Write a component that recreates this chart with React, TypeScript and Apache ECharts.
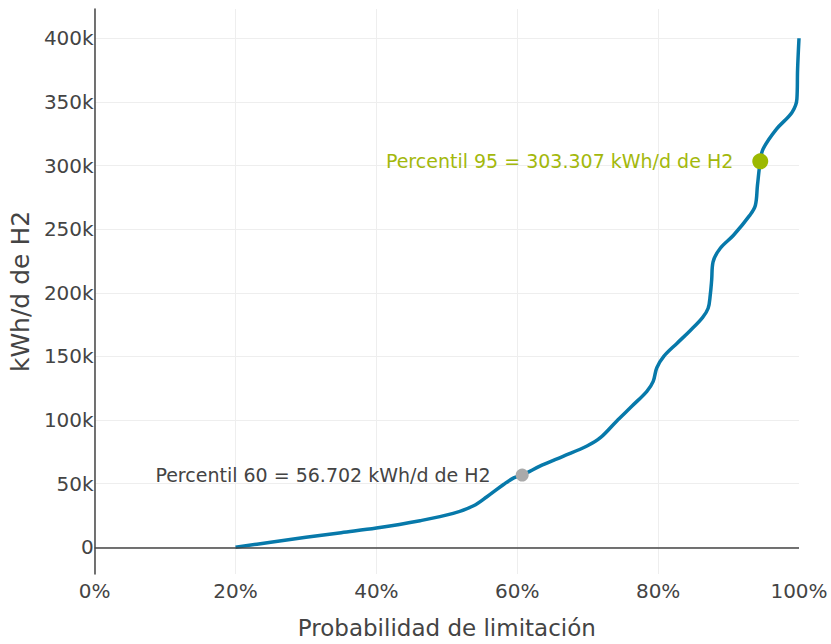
import React, { useEffect, useRef } from "react";
import * as echarts from "echarts";

// Probabilidad de limitación (%) vs energía (kWh/d de H2)
const probabilidad = [
  20, 25, 30, 35, 40, 46.2, 50.9, 53.8, 55.7, 58.1, 59.5, 60.7, 63.5, 66.5,
  69.9, 71.8, 74.1, 76.3, 78.4, 79.3, 79.8, 80.8, 82.7, 84.5, 86.3, 87.1, 87.4,
  87.6, 87.8, 88.8, 90.7, 93.0, 93.8, 94.1, 94.5, 94.9, 96.8, 99.0, 99.7, 99.8,
  100,
];
const energia = [
  0, 4000, 7800, 11500, 15100, 20900, 26600, 32600, 39700, 49500, 54500, 56702,
  64500, 71500, 79600, 86100, 99100, 111000, 122600, 130400, 140900, 150000,
  160400, 170000, 180500, 187800, 198200, 210000, 224300, 234800, 245200,
  260800, 268600, 284300, 303307, 313000, 328600, 341700, 352100, 375600,
  400000,
];

// Percentiles marcados
const percentilNombres = [60, 95];
const percentilX = [60.7, 94.5];
const percentilY = [56702, 303307];

const xTicks = [0, 20, 40, 60, 80, 100];

const fmtMiles = (v: number) =>
  String(Math.round(v)).replace(/\B(?=(\d{3})+(?!\d))/g, ".");

const FONT = "Verdana, 'DejaVu Sans', sans-serif";

export default function App() {
  const ref = useRef<HTMLDivElement>(null);
  useEffect(() => {
    if (!ref.current) return;
    const chart = echarts.init(ref.current, undefined, { renderer: "svg" });
    const curve = probabilidad.map((p, i) => [p, energia[i]]);
    const pColors = ["#aaaaaa", "#9cb900"];
    const pLabelColors = ["#444444", "#a3b80c"];
    const pSizes = [13, 16];
    const pDist = [25, 19];
    chart.setOption({
      animation: false,
      backgroundColor: "#ffffff",
      textStyle: { fontFamily: FONT },
      grid: { left: 94, right: 32, top: 9, bottom: 67, containLabel: false },
      xAxis: {
        type: "value",
        min: xTicks[0],
        max: xTicks[xTicks.length - 1],
        interval: 20,
        name: "Probabilidad de limitación",
        nameLocation: "middle",
        nameGap: 42,
        nameTextStyle: { fontSize: 23, color: "#444", fontFamily: FONT },
        axisLine: { show: false },
        axisTick: { show: false },
        axisLabel: {
          formatter: "{value}%",
          fontSize: 20,
          color: "#444",
          margin: 7,
          fontFamily: FONT,
        },
        splitLine: {
          show: true,
          showMaxLine: false,
          lineStyle: { color: "#eeeeee", width: 1 },
        },
      },
      yAxis: {
        type: "value",
        min: -21000,
        max: 423000,
        minInterval: 50000,
        maxInterval: 50000,
        splitNumber: 9,
        name: "kWh/d de H2",
        nameLocation: "middle",
        nameGap: 59,
        nameTextStyle: { fontSize: 25, color: "#444", fontFamily: FONT },
        axisLine: { show: true, lineStyle: { color: "#444", width: 1.5 } },
        axisTick: { show: false },
        axisLabel: {
          fontSize: 20,
          color: "#444",
          margin: 1,
          showMinLabel: false,
          showMaxLabel: false,
          fontFamily: FONT,
          formatter: (v: number) =>
            v % 50000 !== 0 ? "" : v === 0 ? "0" : v / 1000 + "k",
        },
        splitLine: {
          show: true,
          showMinLine: false,
          showMaxLine: false,
          lineStyle: { color: "#eeeeee", width: 1 },
        },
      },
      series: [
        {
          type: "line",
          data: [],
          z: 1,
          silent: true,
          markLine: {
            silent: true,
            symbol: ["none", "none"],
            label: { show: false },
            lineStyle: { color: "#444", width: 1.5, type: "solid" },
            data: [{ yAxis: 0 }],
          },
        },
        {
          type: "line",
          data: curve,
          z: 3,
          smooth: 0.35,
          showSymbol: false,
          symbol: "none",
          lineStyle: { color: "#0779aa", width: 3.5 },
        },
        ...percentilNombres.map((n, i) => ({
          type: "scatter",
          z: 4,
          symbolSize: pSizes[i],
          itemStyle: { color: pColors[i], opacity: 1 },
          data: [[percentilX[i], percentilY[i]]],
          label: {
            show: true,
            position: "left",
            distance: pDist[i],
            fontSize: 19,
            fontFamily: FONT,
            color: pLabelColors[i],
            formatter: `Percentil ${n} = ${fmtMiles(percentilY[i])} kWh/d de H2`,
          },
        })),
      ],
    });
    return () => chart.dispose();
  }, []);
  return (
    <div
      ref={ref}
      style={{ position: "fixed", left: 0, top: 0, width: 831, height: 644 }}
    />
  );
}
